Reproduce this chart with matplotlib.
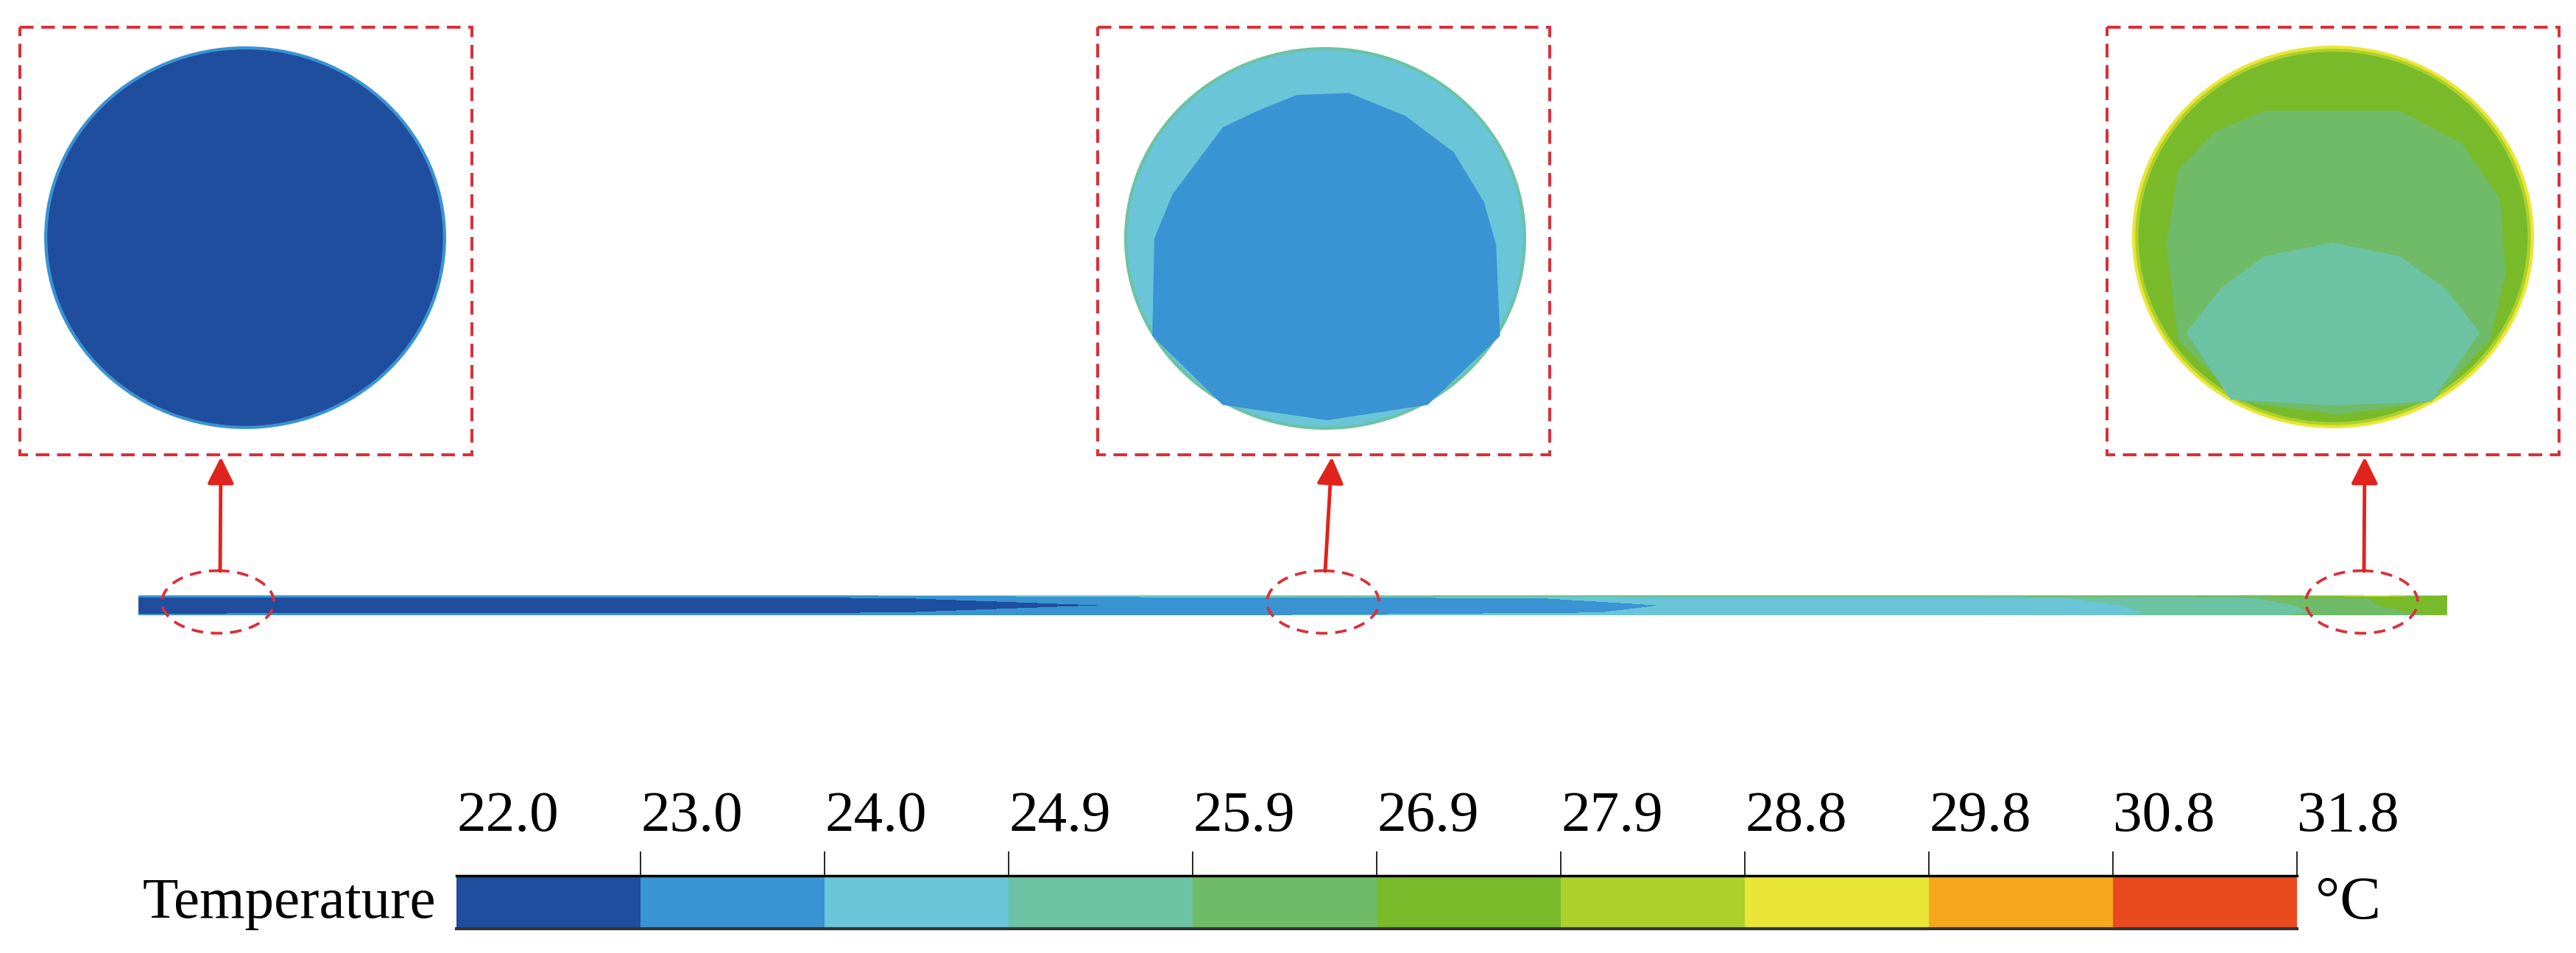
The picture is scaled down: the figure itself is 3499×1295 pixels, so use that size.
import numpy as np
import matplotlib
matplotlib.use("Agg")
import matplotlib.pyplot as plt
from matplotlib.colors import ListedColormap, BoundaryNorm
from matplotlib.patches import Ellipse, Polygon, Rectangle, FancyArrowPatch
import matplotlib.cm as cm

plt.rcParams['font.family'] = ['Liberation Serif', 'DejaVu Serif']

# temperature scale
levels = [22.0, 23.0, 24.0, 24.9, 25.9, 26.9, 27.9, 28.8, 29.8, 30.8, 31.8]
colors = ['#1f4e9e', '#3a93d3', '#6ac5d8', '#6cc3a4', '#70bb67',
          '#78ba2a', '#add02a', '#eae637', '#f5a81c', '#e84a1d']

# temperature along the pipe (position as fraction of length), bottom wall -> top wall
pipe_pos      = [0.00, 0.15, 0.30, 0.36, 0.42, 0.50, 0.58, 0.66, 0.75, 0.86, 0.90, 0.94, 0.97, 1.00]
t_bottom_wall = [23.6, 23.6, 23.7, 23.8, 23.9, 24.0, 24.3, 24.5, 24.6, 24.9, 25.5, 26.0, 26.5, 27.0]
t_near_bottom = [22.6, 22.7, 22.9, 23.1, 23.3, 23.6, 23.8, 24.1, 24.4, 24.8, 25.3, 25.9, 26.8, 27.0]
t_center      = [22.3, 22.4, 22.6, 22.8, 23.0, 23.3, 23.6, 24.0, 24.4, 24.9, 25.3, 26.0, 26.9, 27.1]
t_near_top    = [22.6, 22.7, 22.9, 23.1, 23.4, 23.7, 23.9, 24.2, 24.6, 25.0, 25.6, 26.3, 27.0, 27.2]
t_top_wall    = [23.7, 23.8, 23.9, 24.2, 24.8, 25.6, 26.0, 26.2, 26.3, 26.4, 26.6, 28.0, 29.0, 27.8]
pipe_rows = [0.0, 0.12, 0.5, 0.88, 1.0]

# cross sections: rim temperatures (outer -> inner) and inner zones
sec1_rims = [23.5, 22.5]
sec2_rims = [25.2, 24.4]
sec2_core_T = 23.5
sec2_core_x = [-0.14, 0.12, 0.40, 0.64, 0.79, 0.85, 0.87, 0.51, 0.01, -0.51, -0.86, -0.85, -0.76, -0.51, -0.33]
sec2_core_y = [0.75, 0.76, 0.64, 0.45, 0.19, -0.03, -0.51, -0.87, -0.95, -0.87, -0.51, 0.0, 0.23, 0.58, 0.67]
sec3_rims = [29.0, 28.3, 27.5, 27.2]
sec3_mid_T = 26.3
sec3_mid_x = [-0.34, 0.33, 0.64, 0.83, 0.86, 0.78, 0.49, 0.03, -0.46, -0.77, -0.83, -0.77, -0.59]
sec3_mid_y = [0.66, 0.66, 0.49, 0.20, -0.19, -0.54, -0.86, -0.93, -0.86, -0.54, -0.04, 0.35, 0.55]
sec3_core_T = 25.4
sec3_core_x = [0.0, 0.33, 0.56, 0.73, 0.49, 0.0, -0.51, -0.73, -0.56, -0.34]
sec3_core_y = [-0.03, -0.10, -0.27, -0.50, -0.86, -0.88, -0.85, -0.50, -0.27, -0.10]

cmap = ListedColormap(colors)
norm = BoundaryNorm(levels, cmap.N)

fig = plt.figure(figsize=(34.99, 12.95), dpi=100)
ax = fig.add_axes([0, 0, 1, 1])
ax.set_xlim(0, 3499)
ax.set_ylim(1295, 0)
ax.axis('off')

# pipe
x0, x1, y_top, y_bot = 188, 3324, 809, 836
X = x0 + np.array(pipe_pos) * (x1 - x0)
Y = y_bot - np.array(pipe_rows) * (y_bot - y_top)
Z = np.array([t_bottom_wall, t_near_bottom, t_center, t_near_top, t_top_wall])
ax.contourf(X, Y, Z, levels=levels, colors=colors)

# cross sections
centers = [(333, 323), (1800, 324), (3169, 322)]
rx, ry = 273, 260
rim_step = 0.016

def draw_rims(c, temps):
    for i, t in enumerate(temps):
        s = 1 - i * rim_step
        ax.add_patch(Ellipse(c, 2 * rx * s, 2 * ry * s, color=cmap(norm(t)), lw=0))

def draw_zone(c, xs, ys, t):
    pts = np.column_stack([c[0] + np.array(xs) * rx, c[1] - np.array(ys) * ry])
    ax.add_patch(Polygon(pts, closed=True, color=cmap(norm(t)), lw=0))

draw_rims(centers[0], sec1_rims)
draw_rims(centers[1], sec2_rims)
draw_zone(centers[1], sec2_core_x, sec2_core_y, sec2_core_T)
draw_rims(centers[2], sec3_rims)
draw_zone(centers[2], sec3_mid_x, sec3_mid_y, sec3_mid_T)
draw_zone(centers[2], sec3_core_x, sec3_core_y, sec3_core_T)

# dashed boxes, ellipses and arrows
red_dash = '#d9303a'
for bx in [27, 1491, 2862]:
    ax.add_patch(Rectangle((bx, 37), 614, 581, fill=False, ec=red_dash,
                           lw=2.9, ls=(0, (4.6, 2.6))))
for ex, tx in [(296, 300), (1797, 1809), (3208, 3212)]:
    ax.add_patch(Ellipse((ex, 818), 152, 85, fill=False, ec=red_dash,
                         lw=2.7, ls=(0, (4.2, 2.8))))
    ax.add_patch(FancyArrowPatch((ex + 3, 776), (tx, 621),
                                 arrowstyle='-|>,head_length=1.1,head_width=0.55',
                                 mutation_scale=20, color='#e0231c', lw=3.5,
                                 shrinkA=0, shrinkB=0))

# colour bar
cax = fig.add_axes([620 / 3499, 1 - 1262 / 1295, 2500 / 3499, 72 / 1295])
cb = fig.colorbar(cm.ScalarMappable(norm=norm, cmap=cmap), cax=cax,
                  orientation='horizontal', ticks=levels, spacing='uniform')
cb.outline.set_visible(False)
cax.xaxis.set_ticks_position('top')
cax.set_xticklabels(['%.1f' % v for v in levels])
cax.tick_params(axis='x', length=24, width=1.2, pad=8, labelsize=57, direction='out')
for lab in cax.get_xticklabels():
    lab.set_horizontalalignment('left')
first = cax.xaxis.get_major_ticks()[0]
first.tick1line.set_visible(False)
first.tick2line.set_visible(False)
cax.axhline(1, color='black', lw=2.5, clip_on=False)
cax.axhline(0, color='#333333', lw=3, clip_on=False)

fig.text(592 / 3499, 1 - 1228 / 1295, 'Temperature', ha='right', va='center', fontsize=57)
fig.text(3145 / 3499, 1 - 1228 / 1295, '°C', ha='left', va='center', fontsize=60)

fig.savefig('out.png', dpi=100, facecolor='white')
